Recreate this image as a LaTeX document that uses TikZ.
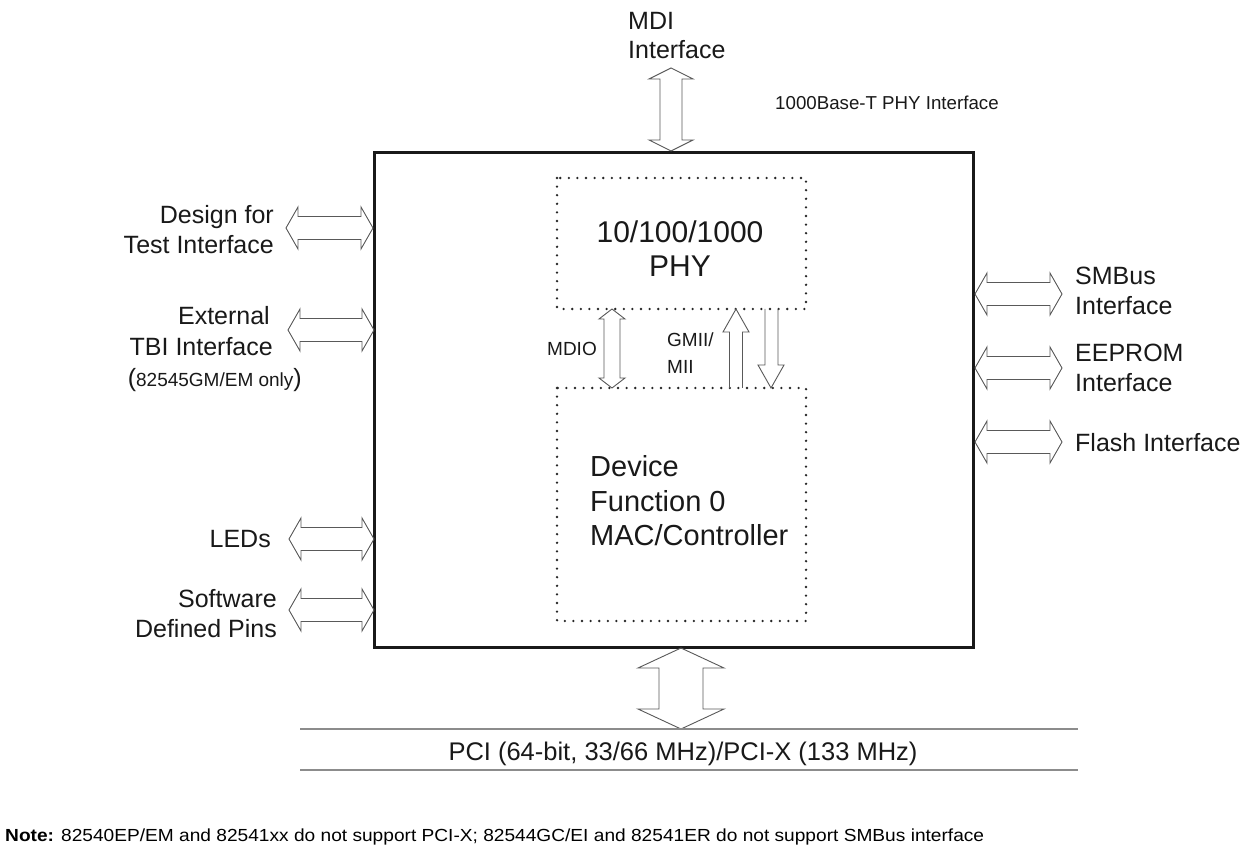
\documentclass[tikz,border=0pt]{standalone}
\usepackage{fontspec}
\setmainfont{Liberation Sans}
\usepackage{graphicx}
\tikzset{
  arr/.style={draw=black!65, line width=0.9pt, line join=miter},
  mainbox/.style={draw=black!90, line width=3pt},
  dotbox/.style={draw=black!85, line width=2.6pt, dash pattern=on 0pt off 8.6pt, line cap=round},
  lbl/.style={font=\fontsize{25}{30}\selectfont, inner sep=0pt, text=black!90},
  big/.style={font=\fontsize{30}{34}\selectfont, inner sep=0pt, text=black!90},
  small/.style={font=\fontsize{19}{22}\selectfont, inner sep=0pt, text=black!90},
  busline/.style={draw=black!45, line width=1.3pt}
}
\newcommand\hdbl[3]{\draw[arr] (#1,#3) -- (#1+12,#3-21) -- (#1+12,#3-11.5) -- (#2-12,#3-11.5) -- (#2-12,#3-21) -- (#2,#3) -- (#2-12,#3+21) -- (#2-12,#3+11.5) -- (#1+12,#3+11.5) -- (#1+12,#3+21) -- cycle;}
\newcommand\vdbl[6]{\draw[arr] (#1,#2) -- (#1+#5,#2+#6) -- (#1+#4,#2+#6) -- (#1+#4,#3-#6) -- (#1+#5,#3-#6) -- (#1,#3) -- (#1-#5,#3-#6) -- (#1-#4,#3-#6) -- (#1-#4,#2+#6) -- (#1-#5,#2+#6) -- cycle;}
\begin{document}
\begin{tikzpicture}[x=1pt,y=-1pt]
\useasboundingbox[fill=white] (0,0) rectangle (1256,866);

% boxes
\draw[mainbox] (374,153) rectangle (973,647);
\draw[dotbox] (557,178) rectangle (806,309);
\draw[dotbox] (557,388) rectangle (806,621);

% MDI arrow
\vdbl{671}{68}{151}{11}{22}{11}
% MDIO arrow
\vdbl{612}{309}{388}{8}{13}{10}
% GMII up arrow
\draw[arr] (729.5,388) -- (729.5,332) -- (723,332) -- (736,309) -- (749,332) -- (742.5,332) -- (742.5,388);
% down arrow
\draw[arr] (765,309) -- (765,365) -- (758,365) -- (771,388) -- (784,365) -- (778,365) -- (778,309);
% PCI arrow
\vdbl{681}{648}{729}{22}{43}{20}

% left arrows
\hdbl{286}{373}{228}
\hdbl{288}{374}{330}
\hdbl{289}{374}{539}
\hdbl{289}{374}{610}
% right arrows
\hdbl{975}{1062}{294}
\hdbl{975}{1062}{368}
\hdbl{975}{1062}{442}

% bus lines
\draw[busline] (300,729) -- (1078,729);
\draw[busline] (300,770) -- (1078,770);

% texts
\node[lbl, anchor=base west] (mdi1) at (628,30) {MDI};
\node[lbl, anchor=base west] (mdi2) at (628,59) {Interface};
\node[small, font=\fontsize{18.7}{22}\selectfont, anchor=base west] (phyif) at (775,110) {1000Base-T PHY Interface};

\node[big, anchor=base] (phy1) at (680,243) {10/100/1000};
\node[big, anchor=base] (phy2) at (680,277) {PHY};

\node[small, anchor=base east] (mdio) at (597,356) {MDIO};
\node[small, anchor=base west] (gmii1) at (667,347) {GMII/};
\node[small, anchor=base west] (gmii2) at (667,374) {MII};

\node[big, font=\fontsize{29}{34}\selectfont, anchor=base west] (dev1) at (590,476) {Device};
\node[big, font=\fontsize{29}{34}\selectfont, anchor=base west] (dev2) at (590,511) {Function 0};
\node[big, font=\fontsize{29}{34}\selectfont, anchor=base west] (dev3) at (590,545) {MAC/Controller};

\node[lbl, anchor=base east] (dft1) at (274,224) {Design for};
\node[lbl, anchor=base east] (dft2) at (274,254) {Test Interface};
\node[lbl, anchor=base east] (tbi1) at (270,325) {External};
\node[lbl, anchor=base east] (tbi2) at (273,356) {TBI Interface};
\node[lbl, anchor=base east] (tbi3) at (302,387) {(\fontsize{19}{22}\selectfont 82545GM/EM only\fontsize{25}{30}\selectfont)};
\node[lbl, anchor=base east] (led) at (271,547) {LEDs};
\node[lbl, anchor=base east] (sw1) at (277,607) {Software};
\node[lbl, anchor=base east] (sw2) at (277,637) {Defined Pins};

\node[lbl, anchor=base west] (smb1) at (1075,285) {SMBus};
\node[lbl, anchor=base west] (smb2) at (1075,315) {Interface};
\node[lbl, anchor=base west] (eep1) at (1075,362) {EEPROM};
\node[lbl, anchor=base west] (eep2) at (1075,392) {Interface};
\node[lbl, anchor=base west] (fla) at (1075,451) {Flash Interface};

\node[inner sep=0pt, anchor=base, text=black!90] (pci) at (683,760) {\resizebox{469pt}{\height}{\fontsize{25.5}{28}\selectfont PCI (64-bit, 33/66 MHz)/PCI-X (133 MHz)}};

\node[inner sep=0pt, anchor=base west, text=black] (note) at (5,841) {\resizebox{979pt}{\height}{\fontsize{17.5}{20}\selectfont \textbf{Note:} 82540EP/EM and 82541xx do not support PCI-X; 82544GC/EI and 82541ER do not support SMBus interface}};
\end{tikzpicture}
\end{document}
